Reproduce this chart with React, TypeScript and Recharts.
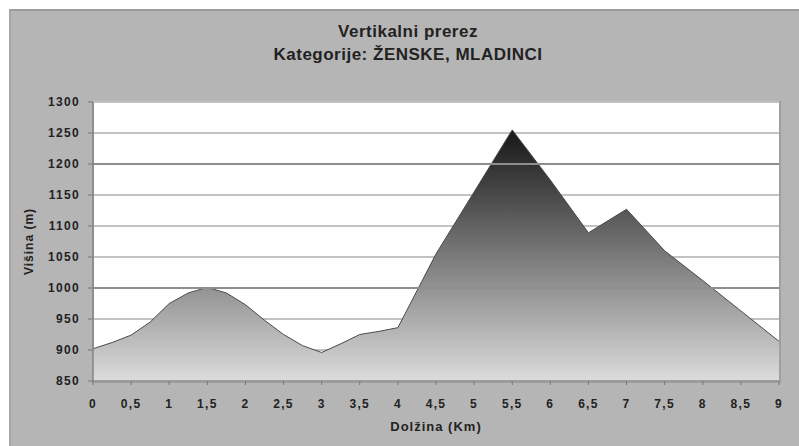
import React from "react";
import {
  AreaChart,
  Area,
  XAxis,
  YAxis,
  CartesianGrid,
  ReferenceLine,
} from "recharts";

const distances = [0, 0.25, 0.5, 0.75, 1, 1.25, 1.5, 1.75, 2, 2.25, 2.5, 2.75, 3, 3.25, 3.5, 3.75, 4, 4.5, 5, 5.5, 6, 6.5, 7, 7.5, 8, 8.5, 9];
const elevations = [902, 912, 924, 945, 975, 992, 1001, 992, 973, 948, 925, 907, 896, 910, 925, 930, 936, 1055, 1155, 1255, 1174, 1089, 1127, 1060, 1012, 963, 914];
const xTicks = [0, 0.5, 1, 1.5, 2, 2.5, 3, 3.5, 4, 4.5, 5, 5.5, 6, 6.5, 7, 7.5, 8, 8.5, 9];
const yTicks = [850, 900, 950, 1000, 1050, 1100, 1150, 1200, 1250, 1300];
const darkGridValues = [1000, 1200];
const titleLines = ["Vertikalni prerez", "Kategorije: ŽENSKE, MLADINCI"];
const xAxisTitle = "Dolžina (Km)";
const yAxisTitle = "Višina (m)";

const data = distances.map((d, i) => ({ km: d, h: elevations[i] }));

const FONT = "'Liberation Sans', Arial, sans-serif";
const tickStyle = { fontFamily: FONT, fontSize: 12, fontWeight: "bold", fill: "#222", letterSpacing: 1.3 };

export default function App() {
  return (
    <div style={{ position: "absolute", left: 0, top: 0, width: 799, height: 446, background: "#fff", overflow: "hidden" }}>
      <div
        style={{
          position: "absolute",
          left: 9,
          top: 9,
          width: 799 - 9 + 2,
          height: 446 - 9 + 2,
          background: "#b5b5b5",
          borderTop: "2px solid #9c9c9c",
          borderLeft: "2px solid #a5a5a5",
          boxSizing: "border-box",
        }}
      />
      <div
        style={{
          position: "absolute",
          left: 92,
          top: 101,
          width: 689,
          height: 282,
          background: "#ffffff",
          border: "2px solid #a0a0a0",
          boxSizing: "border-box",
        }}
      />
      <div style={{ position: "absolute", left: 0, top: 0 }}>
        <AreaChart
          width={799}
          height={446}
          data={data}
          margin={{ top: 102, right: 20, bottom: 35, left: 33 }}
        >
          <defs>
            <linearGradient id="elevGrad" x1="0" y1="0" x2="0" y2="1">
              <stop offset="0%" stopColor="#161616" />
              <stop offset="100%" stopColor="#dcdcdc" />
            </linearGradient>
          </defs>
          <CartesianGrid vertical={false} stroke="#c2c2c2" strokeWidth={2} strokeOpacity={1} />
          {darkGridValues.map((v) => (
            <ReferenceLine key={v} y={v} stroke="#8e8e8e" strokeWidth={2} />
          ))}
          <XAxis
            dataKey="km"
            type="number"
            domain={[0, 9]}
            ticks={xTicks}
            interval={0}
            tickFormatter={(v: number) => String(v).replace(".", ",")}
            tick={tickStyle}
            tickLine={{ stroke: "#777" }}
            tickSize={4}
            axisLine={{ stroke: "#888", strokeWidth: 1.5 }}
            height={30}
            tickMargin={14}
            label={{
              value: xAxisTitle,
              position: "insideBottom",
              offset: -20,
              style: { fontFamily: FONT, fontSize: 13, fontWeight: "bold", fill: "#222", letterSpacing: 1 },
            }}
          />
          <YAxis
            type="number"
            domain={[850, 1300]}
            ticks={yTicks}
            interval={0}
            allowDataOverflow
            tick={tickStyle}
            tickLine={{ stroke: "#777" }}
            tickSize={5}
            tickMargin={8}
            axisLine={{ stroke: "#888", strokeWidth: 1.5 }}
            width={60}
            label={{
              value: yAxisTitle,
              angle: -90,
              position: "insideLeft",
              offset: -4,
              style: { fontFamily: FONT, fontSize: 12, fontWeight: "bold", fill: "#222", textAnchor: "middle", letterSpacing: 1 },
            }}
          />
          <Area
            type="linear"
            dataKey="h"
            stroke="#4a4a4a"
            strokeWidth={1}
            fill="url(#elevGrad)"
            fillOpacity={1}
            baseValue={850}
            isAnimationActive={false}
            dot={false}
            activeDot={false}
          />
          <text x={408} y={37} textAnchor="middle" style={{ fontFamily: FONT, fontSize: 17, fontWeight: "bold", fill: "#222", letterSpacing: 0.5 }}>
            {titleLines[0]}
          </text>
          <text x={408} y={60} textAnchor="middle" style={{ fontFamily: FONT, fontSize: 17, fontWeight: "bold", fill: "#222", letterSpacing: 0.5 }}>
            {titleLines[1]}
          </text>
        </AreaChart>
      </div>
    </div>
  );
}
